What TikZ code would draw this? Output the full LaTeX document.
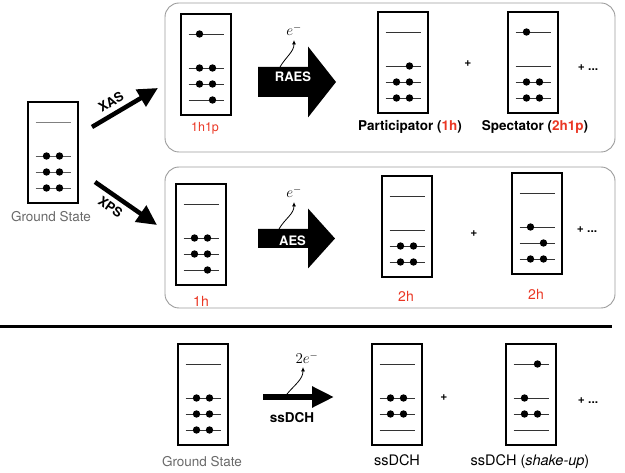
\RequirePackage{fix-cm}
\documentclass[tikz,border=0pt]{standalone}
\usepackage{fontspec}
\setmainfont{TeX Gyre Heros}
\usepackage{tikz}
\usetikzlibrary{arrows.meta,calc}
\definecolor{holered}{RGB}{234,55,36}
\definecolor{gsgray}{RGB}{105,105,105}
\definecolor{panelgray}{RGB}{155,155,155}
\tikzset{
  orbbox/.style={draw,line width=2.4pt,minimum width=50pt,minimum height=101pt,inner sep=0pt},
  lvl/.style={line width=0.9pt,black!80},
  panel/.style={draw=panelgray,line width=0.9pt,rounded corners=14pt},
  thickarrow/.style={line width=4.5pt,-{Triangle[length=20pt,width=19pt]}},
  emit/.style={line width=0.8pt,-{Latex[length=4.5pt,width=4pt]}},
  elec/.style={inner sep=0pt,font=\fontsize{15}{17}\selectfont},
  procw/.style={text=white,inner sep=0pt,font=\fontsize{13}{15}\selectfont\bfseries},
  bl/.style={inner sep=0pt,font=\fontsize{13.5}{16}\selectfont\bfseries},
  rl/.style={inner sep=0pt,text=holered,font=\fontsize{14}{16}\selectfont},
  gl/.style={inner sep=0pt,text=gsgray,font=\fontsize{13.5}{16}\selectfont},
  nl/.style={inner sep=0pt,font=\fontsize{14.5}{17}\selectfont},
  plus/.style={inner sep=0pt,font=\fontsize{12}{14}\selectfont\bfseries}
}
\begin{document}
\begin{tikzpicture}[x=1pt,y=-1pt]
\useasboundingbox (0,0) rectangle (625,473);
%panels
\draw[panel] (165,3) rectangle (615,152);
\draw[panel] (165,167) rectangle (615,308);
\draw[line width=3pt] (0,327)--(612,327);
%boxes
\node[orbbox] (gs) at (53,152.5) {};
\node[orbbox] (hp) at (206,64.5) {};
\node[orbbox] (part) at (403,62.5) {};
\node[orbbox] (spec) at (533,62.5) {};
\node[orbbox] (h1) at (201,234.5) {};
\node[orbbox] (dh1) at (407,226.5) {};
\node[orbbox] (dh2) at (537,223.5) {};
\node[orbbox] (gsb) at (203,394.5) {};
\node[orbbox] (dch) at (397,394.5) {};
\node[orbbox] (dchs) at (531,394.5) {};
%levels
\draw[lvl,gray] (35.5,122)--(70.5,122);
\draw[lvl,black!65] (35.5,156)--(70.5,156) (35.5,172)--(70.5,172) (35.5,188)--(70.5,188);
\draw[lvl] (188.5,34)--(223.5,34) (188.5,68)--(223.5,68) (188.5,84)--(223.5,84) (188.5,100)--(223.5,100);
\draw[lvl] (385.5,32)--(420.5,32) (385.5,66)--(420.5,66) (385.5,82)--(420.5,82) (385.5,98)--(420.5,98);
\draw[lvl] (515.5,32)--(550.5,32) (515.5,66)--(550.5,66) (515.5,82)--(550.5,82) (515.5,98)--(550.5,98);
\draw[lvl] (183.5,204)--(218.5,204) (183.5,238)--(218.5,238) (183.5,254)--(218.5,254) (183.5,270)--(218.5,270);
\draw[lvl] (389.5,196)--(424.5,196) (389.5,230)--(424.5,230) (389.5,246)--(424.5,246) (389.5,262)--(424.5,262);
\draw[lvl] (519.5,193)--(554.5,193) (519.5,227)--(554.5,227) (519.5,243)--(554.5,243) (519.5,259)--(554.5,259);
\draw[lvl] (185.5,364)--(220.5,364) (185.5,398)--(220.5,398) (185.5,414)--(220.5,414) (185.5,430)--(220.5,430);
\draw[lvl] (379.5,364)--(414.5,364) (379.5,398)--(414.5,398) (379.5,414)--(414.5,414) (379.5,430)--(414.5,430);
\draw[lvl] (513.5,364)--(548.5,364) (513.5,398)--(548.5,398) (513.5,414)--(548.5,414) (513.5,430)--(548.5,430);
%electrons
\fill (46.5,156) circle (3.7) (59.5,156) circle (3.7) (46.5,172) circle (3.7) (59.5,172) circle (3.7) (46.5,188) circle (3.7) (59.5,188) circle (3.7);
\fill (199.5,34) circle (3.7) (199.5,68) circle (3.7) (212.5,68) circle (3.7) (199.5,84) circle (3.7) (212.5,84) circle (3.7) (212.5,100) circle (3.7);
\fill (409.5,66) circle (3.7) (396.5,82) circle (3.7) (409.5,82) circle (3.7) (396.5,98) circle (3.7) (409.5,98) circle (3.7);
\fill (526.5,32) circle (3.7) (526.5,82) circle (3.7) (539.5,82) circle (3.7) (526.5,98) circle (3.7) (539.5,98) circle (3.7);
\fill (194.5,238) circle (3.7) (207.5,238) circle (3.7) (194.5,254) circle (3.7) (207.5,254) circle (3.7) (207.5,270) circle (3.7);
\fill (400.5,246) circle (3.7) (413.5,246) circle (3.7) (400.5,262) circle (3.7) (413.5,262) circle (3.7);
\fill (530.5,227) circle (3.7) (543.5,243) circle (3.7) (530.5,259) circle (3.7) (543.5,259) circle (3.7);
\fill (196.5,398) circle (3.7) (209.5,398) circle (3.7) (196.5,414) circle (3.7) (209.5,414) circle (3.7) (196.5,430) circle (3.7) (209.5,430) circle (3.7);
\fill (390.5,398) circle (3.7) (403.5,398) circle (3.7) (390.5,414) circle (3.7) (403.5,414) circle (3.7);
\fill (537.5,364) circle (3.7) (524.5,398) circle (3.7) (524.5,414) circle (3.7) (537.5,414) circle (3.7);
%arrows
\coordinate (xa1) at (92,127);
\coordinate (xa2) at (158,88);
\coordinate (xp1) at (95,182);
\coordinate (xp2) at (157,225);
\draw[thickarrow] (xa1)--(xa2) node[pos=0.38,above=5pt,sloped,inner sep=0pt,font=\fontsize{13}{15}\selectfont\bfseries]{XAS};
\draw[thickarrow] (xp1)--(xp2) node[pos=0.36,below=5pt,sloped,inner sep=0pt,font=\fontsize{13}{15}\selectfont\bfseries]{XPS};
\fill (258,67)--(308,67)--(308,46.5)--(336,82)--(308,117.5)--(308,97)--(258,97)--cycle;
\fill (258,229)--(308,229)--(308,208.5)--(335,238.5)--(308,268.5)--(308,248)--(258,248)--cycle;
\node[procw] (raes) at (293,77) {RAES};
\node[procw] (aes) at (292.5,240.5) {AES};
\coordinate (d1) at (263,397);
\coordinate (d2) at (334,397);
\draw[line width=6pt,-{Triangle[length=22pt,width=20pt]}] (d1)--(d2);
\node[bl] (dlab) at (292,418) {ssDCH};
%emitted electrons
\node[elec] (e1) at (294,30) {$e^-$};
\node[elec] (e2) at (294,192) {$e^-$};
\node[elec] (e3) at (307,358) {$2e^-$};
\coordinate (r1) at (280,67);
\coordinate (r2) at (279,229);
\coordinate (r3) at (287,394);
\draw[emit] (r1) to[out=60,in=-90] ($(e1.south)+(0,4)$);
\draw[emit] (r2) to[out=60,in=-90] ($(e2.south)+(0,4)$);
\draw[emit] (r3) to[out=50,in=-90] ($(e3.south)+(-4,3)$);
%labels
\node[gl] (lgs) at (51,217) {Ground State};
\node[rl,font=\fontsize{12.5}{15}\selectfont] (lhp) at (205,128) {1h1p};
\node[bl] (lpart) at (410,127) {Participator (\textcolor{holered}{1h})};
\node[bl] (lspec) at (535,127) {Spectator (\textcolor{holered}{2h1p})};
\node[plus] (p1) at (468,64) {+};
\node[plus] (p2) at (588,68) {+ ...};
\node[rl] (lh1) at (201,301) {1h};
\node[rl] (ldh1) at (406,296) {2h};
\node[rl] (ldh2) at (536,294) {2h};
\node[plus] (p3) at (474,234) {+};
\node[plus] (p4) at (587,230) {+ ...};
\node[gl] (lgsb) at (202,462) {Ground State};
\node[nl] (ldch) at (397,460) {ssDCH};
\node[nl] (ldchs) at (530,462) {ssDCH (\textit{shake-up})};
\node[plus] (p5) at (444,398) {+};
\node[plus] (p6) at (588,401) {+ ...};
\end{tikzpicture}
\end{document}
